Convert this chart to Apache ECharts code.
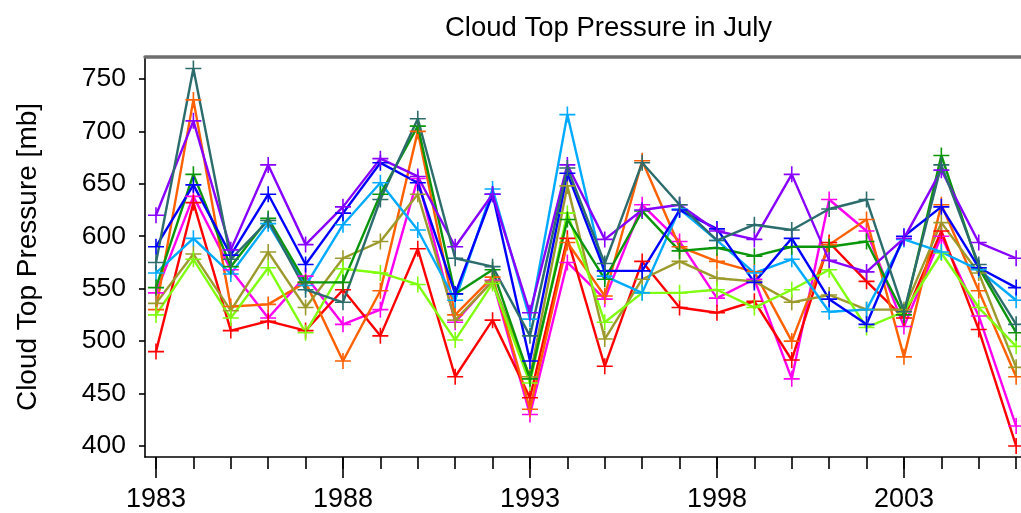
<!DOCTYPE html>
<html>
<head>
<meta charset="utf-8">
<style>
  html, body { margin: 0; padding: 0; background: #ffffff; }
  #chart { width: 1021px; height: 513px; }
</style>
<script src="https://cdn.jsdelivr.net/npm/echarts@6/dist/echarts.min.js"></script>
</head>
<body>
<div id="chart"></div>
<script>
// Years of July cloud-top pressure records
const years = [1983, 1984, 1985, 1986, 1987, 1988, 1989, 1990, 1991, 1992, 1993, 1994,
               1995, 1996, 1997, 1998, 1999, 2000, 2001, 2002, 2003, 2004, 2005, 2006];
const labelYears = [1983, 1988, 1993, 1998, 2003];
const pressureTicks = [400, 450, 500, 550, 600, 650, 700, 750];

// Cloud top pressure (mb), one list per region
const redVals     = [490, 632, 510, 519, 510, 549, 505, 588, 466, 520, 446, 598, 476, 576, 532, 527, 538, 482, 594, 557, 522, 605, 511, 400];
const orangeVals  = [530, 730, 533, 535, 556, 481, 548, 700, 525, 561, 435, 594, 543, 672, 590, 576, 566, 500, 592, 616, 485, 630, 548, 466];
const oliveVals   = [536, 583, 529, 585, 532, 579, 595, 640, 520, 557, 466, 648, 502, 559, 576, 560, 557, 537, 544, 530, 530, 613, 565, 475];
const limeVals    = [525, 578, 522, 570, 508, 569, 565, 554, 501, 555, 460, 622, 518, 546, 546, 549, 532, 549, 568, 513, 528, 584, 532, 495];
const greenVals   = [551, 659, 571, 617, 556, 556, 640, 705, 545, 568, 464, 616, 559, 624, 586, 589, 581, 590, 590, 595, 525, 677, 570, 508];
const tealVals    = [575, 760, 578, 615, 549, 537, 635, 712, 579, 571, 505, 665, 574, 670, 630, 596, 611, 606, 626, 635, 528, 668, 573, 516];
const skyVals     = [565, 598, 564, 612, 553, 611, 651, 606, 539, 645, 521, 716, 562, 546, 626, 596, 565, 578, 528, 530, 597, 585, 568, 539];
const blueVals    = [590, 649, 582, 640, 573, 622, 670, 651, 545, 640, 481, 660, 567, 567, 625, 607, 556, 598, 540, 516, 600, 628, 570, 551];
const violetVals  = [620, 710, 587, 668, 592, 628, 674, 657, 590, 640, 527, 668, 597, 625, 630, 605, 597, 659, 577, 566, 598, 663, 594, 579];
const magentaVals = [546, 638, 568, 522, 562, 516, 530, 655, 518, 558, 430, 575, 540, 630, 595, 541, 559, 464, 635, 605, 514, 600, 524, 419];

const seriesDefs = [
  { name: 'magenta', values: magentaVals, color: '#ff00f0' },
  { name: 'red',     values: redVals,     color: '#ff0000' },
  { name: 'orange',  values: orangeVals,  color: '#ff6000' },
  { name: 'olive',   values: oliveVals,   color: '#9c9a2c' },
  { name: 'lime',    values: limeVals,    color: '#80ff10' },
  { name: 'sky',     values: skyVals,     color: '#00aaff' },
  { name: 'green',   values: greenVals,   color: '#0a960a' },
  { name: 'blue',    values: blueVals,    color: '#0000ff' },
  { name: 'violet',  values: violetVals,  color: '#8800ff' },
  { name: 'teal',    values: tealVals,    color: '#2c6c6c' }
];

const FONT = 'Liberation Sans, Arial, sans-serif';
const X_MIN = 1982.706, X_MAX = 2006.13;
const PLUS = 'path://M9,0h2v9h9v2h-9v9h-2v-9h-9v-2h9z';

const chart = echarts.init(document.getElementById('chart'), null, { renderer: 'canvas' });

chart.setOption({
  animation: false,
  backgroundColor: '#ffffff',
  title: {
    text: 'Cloud Top Pressure in July',
    left: 440,
    top: 9,
    textStyle: { fontFamily: FONT, fontSize: 27.5, fontWeight: 'normal', color: '#000' }
  },
  grid: { left: 145, right: 0, top: 57, bottom: 55, containLabel: false },
  xAxis: [
    {
      type: 'value', min: X_MIN, max: X_MAX, position: 'bottom',
      axisLine: { show: true, onZero: false, lineStyle: { color: '#000', width: 1.6 } },
      axisTick: { show: true, customValues: years, length: 12, lineStyle: { color: '#000', width: 1.6 } },
      axisLabel: { show: false },
      splitLine: { show: false }
    },
    {
      type: 'value', min: X_MIN, max: X_MAX, position: 'bottom',
      axisLine: { show: false, onZero: false },
      axisTick: { show: true, customValues: labelYears, length: 21, lineStyle: { color: '#000', width: 1.6 } },
      axisLabel: {
        show: true, customValues: labelYears, margin: 29,
        fontFamily: FONT, fontSize: 27, color: '#000',
        formatter: v => String(v)
      },
      splitLine: { show: false }
    },
    {
      type: 'value', min: X_MIN, max: X_MAX, position: 'top',
      axisLine: { show: true, onZero: false, lineStyle: { color: '#6e6e6e', width: 3.5 } },
      axisTick: { show: false },
      axisLabel: { show: false },
      splitLine: { show: false }
    }
  ],
  yAxis: {
    type: 'value', min: 389.5, max: 770.9,
    name: 'Cloud Top Pressure [mb]',
    nameLocation: 'middle', nameRotate: 90, nameGap: 103,
    nameTextStyle: { fontFamily: FONT, fontSize: 28, color: '#000' },
    axisLine: { show: true, onZero: false, lineStyle: { color: '#000', width: 1.6 } },
    axisTick: { show: true, customValues: pressureTicks, length: 6, lineStyle: { color: '#000', width: 1.6 } },
    axisLabel: {
      customValues: pressureTicks, margin: 19,
      fontFamily: FONT, fontSize: 26.5, color: '#000',
      formatter: v => String(v)
    },
    splitLine: { show: false }
  },
  series: seriesDefs.map(s => ({
    name: s.name,
    type: 'line',
    xAxisIndex: 0,
    data: years.map((y, i) => [y, s.values[i]]),
    symbol: PLUS,
    symbolSize: 16,
    showSymbol: true,
    clip: false,
    lineStyle: { color: s.color, width: 2.4 },
    itemStyle: { color: s.color },
    emphasis: { disabled: true }
  }))
});
</script>
</body>
</html>
